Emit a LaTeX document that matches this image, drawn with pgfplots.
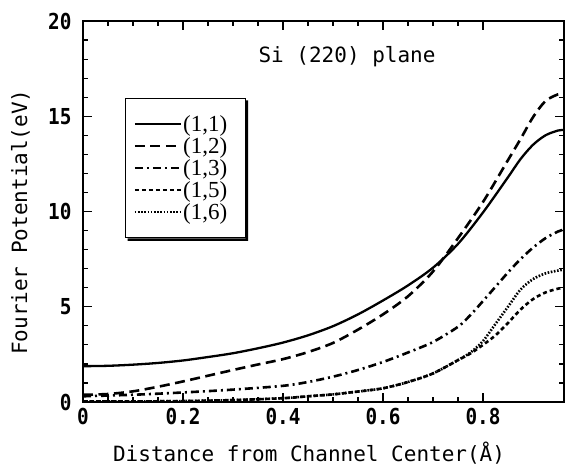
\documentclass[border=0pt]{standalone}
\usepackage{pgfplots}
\pgfplotsset{compat=1.18}
\usepackage{fontspec}
\setmainfont{Liberation Serif}
\newfontfamily\monof{DejaVu Sans Mono}
\newfontfamily\tickf[FakeStretch=0.88]{DejaVu Sans Mono}

\begin{document}
\begin{tikzpicture}
\begin{axis}[
  scale only axis, width=481pt, height=381pt,
  xmin=0, xmax=0.962, ymin=0, ymax=20,
  xtick={0,0.2,0.4,0.6,0.8}, xticklabels={0,0.2,0.4,0.6,0.8},
  ytick={0,5,10,15,20}, yticklabels={0,5,10,15,20},
  minor x tick num=3, minor y tick num=4,
  tick align=inside,
  major tick length=9pt, minor tick length=5pt,
  axis line style={line width=1.6pt},
  every tick/.style={line width=1.2pt, black},
  tick label style={font=\fontsize{22}{22}\tickf\bfseries},
  xticklabel style={yshift=-3pt},
  yticklabel style={xshift=-8pt},
  xlabel={Distance from Channel Center(Å)},
  xlabel style={at={(axis description cs:0.47,0)}, anchor=base, yshift=-59pt, font=\fontsize{21}{21}\monof},
  ylabel={Fourier Potential(eV)},
  ylabel style={at={(axis description cs:-0.1164,0.472)}, anchor=base, font=\fontsize{21}{21}\monof},
  legend style={name=leg, at={(axis cs:0.084,15.96)}, anchor=north west, draw=black, line width=1pt, fill=white,
    font=\fontsize{23}{23}\selectfont, row sep=2.5pt, inner xsep=8pt, inner ysep=16pt,
    nodes={inner sep=1pt}},
  legend cell align=left,
  legend image code/.code={\draw[#1] (0pt,0pt) -- (46pt,0pt);},
]
\addplot[black, line width=2.3pt, smooth] coordinates {
(0,1.88)(0.05,1.9)(0.1,1.96)(0.15,2.05)(0.2,2.18)(0.25,2.36)(0.3,2.56)(0.35,2.82)(0.4,3.12)(0.45,3.5)(0.5,3.98)(0.55,4.6)(0.6,5.33)(0.65,6.12)(0.7,7.05)(0.75,8.3)(0.8,9.95)(0.85,11.8)(0.875,12.75)(0.9,13.5)(0.925,14.0)(0.95,14.25)(0.962,14.28)};
\addlegendentry{(1,1)\hspace*{9pt}}
\addplot[black, line width=2.6pt, dash pattern=on 10pt off 5.5pt, smooth] coordinates {
(0,0.38)(0.05,0.42)(0.1,0.56)(0.15,0.8)(0.2,1.08)(0.25,1.38)(0.3,1.68)(0.35,1.97)(0.4,2.25)(0.45,2.62)(0.5,3.1)(0.55,3.8)(0.6,4.6)(0.65,5.55)(0.7,6.85)(0.75,8.6)(0.8,10.5)(0.85,12.7)(0.875,13.8)(0.9,14.95)(0.925,15.8)(0.95,16.15)(0.962,16.2)};
\addlegendentry{(1,2)\hspace*{9pt}}
\addplot[black, line width=2.6pt, dash pattern=on 8pt off 4pt on 2pt off 4pt, smooth] coordinates {
(0,0.3)(0.1,0.38)(0.2,0.5)(0.3,0.65)(0.4,0.85)(0.45,1.05)(0.5,1.33)(0.55,1.68)(0.6,2.1)(0.65,2.6)(0.7,3.15)(0.75,3.95)(0.775,4.57)(0.8,5.3)(0.825,6.05)(0.85,6.8)(0.875,7.5)(0.9,8.1)(0.925,8.6)(0.95,8.95)(0.962,9.05)};
\addlegendentry{(1,3)\hspace*{9pt}}
\addplot[black, line width=2.6pt, dash pattern=on 4pt off 3pt, smooth] coordinates {
(0,0.03)(0.1,0.03)(0.2,0.05)(0.3,0.1)(0.4,0.2)(0.45,0.3)(0.5,0.4)(0.55,0.55)(0.6,0.72)(0.65,1.05)(0.7,1.5)(0.75,2.2)(0.775,2.55)(0.8,3.0)(0.825,3.5)(0.85,4.15)(0.875,4.85)(0.9,5.4)(0.925,5.75)(0.95,5.95)(0.962,6.0)};
\addlegendentry{(1,5)\hspace*{9pt}}
\addplot[black, line width=2.6pt, dash pattern=on 1.6pt off 1.6pt, smooth] coordinates {
(0,0.03)(0.1,0.03)(0.2,0.05)(0.3,0.1)(0.4,0.2)(0.45,0.3)(0.5,0.4)(0.55,0.55)(0.6,0.72)(0.65,1.05)(0.7,1.5)(0.75,2.2)(0.775,2.6)(0.8,3.2)(0.825,4.1)(0.85,5.0)(0.875,5.9)(0.9,6.45)(0.925,6.75)(0.95,6.9)(0.962,6.95)};
\addlegendentry{(1,6)\hspace*{9pt}}
\node[anchor=base west, font=\fontsize{21}{21}\monof] at (axis cs:0.344,17.8) {Si (220) plane};
\end{axis}
\fill[black] ([yshift=-2.5pt]leg.north east) -- ++(2.5pt,0) |- ([xshift=2.5pt,yshift=-2.5pt]leg.south west) -- ([xshift=2.5pt]leg.south west) -- (leg.south east) -- cycle;
\path ([xshift=-83pt,yshift=-64pt]current axis.south west) rectangle ([xshift=1pt,yshift=21pt]current axis.north east);
\end{tikzpicture}
\end{document}
